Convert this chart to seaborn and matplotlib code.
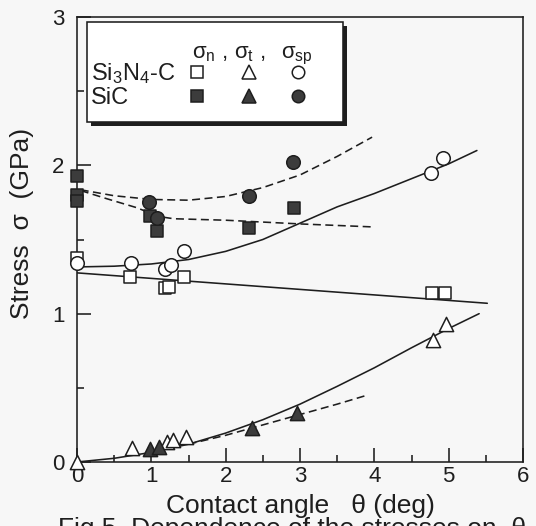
import numpy as np
import pandas as pd
import matplotlib
matplotlib.use("Agg")
import matplotlib.pyplot as plt
import seaborn as sns
from matplotlib.ticker import MultipleLocator
from matplotlib.patches import Rectangle

# ---------------- data ----------------
# Si3N4-C (open symbols)
si3n4_n_theta = [0.0, 0.71, 1.18, 1.24, 1.44, 4.78, 4.95]
si3n4_n_sigma = [1.375, 1.25, 1.17, 1.18, 1.25, 1.14, 1.14]
si3n4_t_theta = [0.0, 0.74, 1.21, 1.29, 1.47, 4.79, 4.97]
si3n4_t_sigma = [0.0, 0.095, 0.137, 0.148, 0.17, 0.82, 0.93]
si3n4_sp_theta = [0.0, 0.73, 1.18, 1.27, 1.44, 4.76, 4.93]
si3n4_sp_sigma = [1.34, 1.34, 1.30, 1.33, 1.42, 1.95, 2.05]

# SiC (filled symbols)
sic_n_theta = [0.0, 0.0, 0.0, 0.98, 1.08, 2.31, 2.92]
sic_n_sigma = [1.93, 1.80, 1.76, 1.66, 1.56, 1.58, 1.71]
sic_t_theta = [0.98, 1.10, 2.36, 2.96]
sic_t_sigma = [0.09, 0.10, 0.23, 0.33]
sic_sp_theta = [0.97, 1.07, 2.31, 2.91]
sic_sp_sigma = [1.75, 1.645, 1.79, 2.02]

# fitted curves (solid: Si3N4-C, dashed: SiC)
fit_n_theta = [0.0, 5.52]
fit_n_sigma = [1.275, 1.07]
fit_sp_theta = [0.0, 0.5, 1.0, 1.5, 2.0, 2.5, 3.0, 3.5, 4.0, 4.5, 5.0, 5.38]
fit_sp_sigma = [1.315, 1.32, 1.335, 1.365, 1.42, 1.50, 1.61, 1.72, 1.81, 1.91, 2.01, 2.10]
fit_t_theta = [0.0, 0.5, 1.0, 1.5, 2.0, 2.5, 3.0, 3.5, 4.0, 4.5, 5.0, 5.41]
fit_t_sigma = [0.0, 0.025, 0.065, 0.12, 0.195, 0.285, 0.39, 0.51, 0.635, 0.77, 0.90, 1.0]

dash_sp_theta = [0.05, 0.5, 1.0, 1.5, 2.0, 2.5, 3.0, 3.5, 3.97]
dash_sp_sigma = [1.835, 1.795, 1.77, 1.765, 1.79, 1.85, 1.935, 2.06, 2.19]
dash_n_theta = [0.05, 0.4, 0.8, 1.1, 1.3, 2.0, 3.0, 3.97]
dash_n_sigma = [1.83, 1.775, 1.715, 1.655, 1.64, 1.63, 1.605, 1.585]
dash_t_theta = [1.5, 2.0, 2.5, 3.0, 3.5, 3.9]
dash_t_sigma = [0.12, 0.18, 0.25, 0.32, 0.39, 0.45]

x_ticks = [0, 1, 2, 3, 4, 5, 6]
y_ticks = [0, 1, 2, 3]

# ---------------- style ----------------
sns.set_theme(style="ticks")
plt.rcParams["font.family"] = ["Liberation Sans", "DejaVu Sans"]
plt.rcParams["mathtext.fontset"] = "custom"
plt.rcParams["mathtext.rm"] = "Liberation Sans"
plt.rcParams["mathtext.it"] = "Liberation Sans:italic"

INK = "#1e1e1e"
FILL = "#3c3c3c"
BG = "#f7f7f7"
LW = 1.15
DASH = (0, (5, 2.8))

fig = plt.figure(figsize=(5.36, 5.26), dpi=100, facecolor=BG)
ax = fig.add_axes([77 / 536, 1 - 462 / 526, 446 / 536, 445 / 526])
ax.set_facecolor(BG)

def line(x, y, ls):
    sns.lineplot(x=x, y=y, ax=ax, color=INK, lw=LW, linestyle=ls,
                 sort=False, estimator=None, legend=False)

line(fit_n_theta, fit_n_sigma, "-")
line(fit_sp_theta, fit_sp_sigma, "-")
line(fit_t_theta, fit_t_sigma, "-")
line(dash_sp_theta, dash_sp_sigma, DASH)
line(dash_n_theta, dash_n_sigma, DASH)
line(dash_t_theta, dash_t_sigma, DASH)

def pts(x, y, marker, s, filled):
    sns.scatterplot(x=x, y=y, ax=ax, marker=marker, s=s,
                    color=(FILL if filled else "white"),
                    edgecolor=INK, linewidth=1.1, clip_on=False,
                    zorder=5, legend=False)

pts(si3n4_n_theta, si3n4_n_sigma, "s", 80, False)
pts(si3n4_sp_theta, si3n4_sp_sigma, "o", 95, False)
pts(si3n4_t_theta, si3n4_t_sigma, "^", 105, False)
pts(sic_n_theta, sic_n_sigma, "s", 80, True)
pts(sic_sp_theta, sic_sp_sigma, "o", 95, True)
pts(sic_t_theta, sic_t_sigma, "^", 105, True)

ax.set_xlim(0, 6)
ax.set_ylim(0, 3)
ax.set_xticks(x_ticks)
ax.set_yticks(y_ticks)
ax.xaxis.set_minor_locator(MultipleLocator(0.5))
ax.yaxis.set_minor_locator(MultipleLocator(0.5))
ax.tick_params(which="both", direction="in", color=INK, width=LW,
               top=False, right=False)
ax.tick_params(which="major", length=10, labelsize=16, labelcolor=INK)
ax.tick_params(which="minor", length=5)
ax.tick_params(axis="x", which="major", pad=3)
ax.tick_params(axis="y", which="major", pad=9)
for sp in ax.spines.values():
    sp.set_visible(True)
    sp.set_color(INK)
    sp.set_linewidth(LW)

ax.set_xlabel("Contact angle   θ (deg)", fontsize=19, color=INK, labelpad=5)
ax.set_ylabel("Stress  σ  (GPa)", fontsize=19, color=INK)
ax.yaxis.set_label_coords(-0.096, 0.535)

# ---------------- legend table ----------------
def fx(px):
    return (px - 77) / 446

def fy(py):
    return (462 - py) / 445

# shadow + box
ax.add_patch(Rectangle((fx(91), fy(126)), fx(347) - fx(91), fy(26) - fy(126),
                       transform=ax.transAxes, facecolor=INK, edgecolor=INK,
                       lw=0, zorder=8, clip_on=False))
ax.add_patch(Rectangle((fx(87), fy(122)), fx(343) - fx(87), fy(22) - fy(122),
                       transform=ax.transAxes, facecolor="white", edgecolor=INK,
                       lw=LW, zorder=9, clip_on=False))

tkw = dict(transform=ax.transAxes, fontsize=16, color=INK, zorder=10, va="baseline")
ax.text(fx(192), fy(58), r"σ$_{\rm n}$ ,", ha="left", **tkw)
ax.text(fx(234), fy(58), r"σ$_{\rm t}$ ,", ha="left", **tkw)
ax.text(fx(281), fy(58), r"σ$_{\rm sp}$", ha="left", **tkw)
ax.text(fx(91), fy(80), r"Si$_3$N$_4$-C", ha="left", fontsize=17, color=INK,
        zorder=10, va="baseline", transform=ax.transAxes)
ax.text(fx(91), fy(104), "SiC", ha="left", fontsize=17, color=INK,
        zorder=10, va="baseline", transform=ax.transAxes)

mkw = dict(transform=ax.transAxes, ls="none", mec=INK, mew=1.1, zorder=10, clip_on=False)
ax.plot([fx(197)], [fy(72)], marker="s", ms=9.0, mfc="white", **mkw)
ax.plot([fx(249)], [fy(72)], marker="^", ms=10.0, mfc="white", **mkw)
ax.plot([fx(298)], [fy(72)], marker="o", ms=9.0, mfc="white", **mkw)
ax.plot([fx(197)], [fy(96)], marker="s", ms=9.0, mfc=FILL, **mkw)
ax.plot([fx(249)], [fy(96)], marker="^", ms=10.0, mfc=FILL, **mkw)
ax.plot([fx(298)], [fy(96)], marker="o", ms=9.0, mfc=FILL, **mkw)

# partially visible caption at the bottom edge of the scan
fig.text(58 / 536, -10 / 526, "Fig.5  Dependence of the stresses on  θ",
         fontsize=19, color=INK, ha="left", va="baseline")

fig.savefig("out.png", dpi=100, facecolor=BG)
